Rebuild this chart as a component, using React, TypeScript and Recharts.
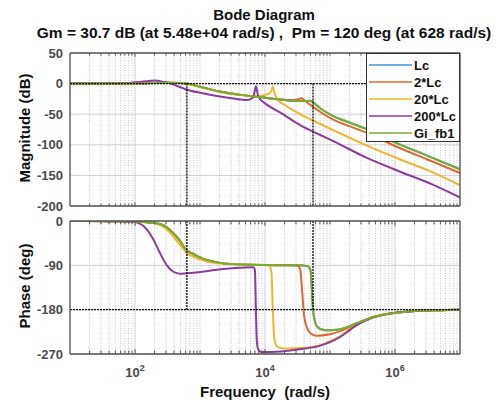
import React from "react";
import { LineChart, Line, XAxis, YAxis, CartesianGrid, ReferenceLine } from "recharts";

// ---- series meta ----
const seriesNames = ["Lc", "2*Lc", "20*Lc", "200*Lc", "Gi_fb1"];
const seriesColors = ["#3f98d4", "#e0672f", "#eeb62e", "#8a3c9c", "#77ac30"];

// ---- axes ----
const xTicks = [100, 10000, 1000000];
const magTicks = [-200, -150, -100, -50, 0, 50];
const phaseTicks = [-270, -180, -90, 0];
const gmFreq = 54800; // Gm frequency (rad/s)
const pmFreq = 628; // Pm frequency (rad/s)

// ---- magnitude (dB) ----
const lcMagW = [10, 100, 200, 316, 447, 628, 1000, 2000, 4000, 8300, 17000, 31600, 40000, 50000, 54800, 63000, 79000, 112000, 204000, 400000, 1000000, 3160000, 10000000];
const lcMagDb = [0, 0.1, 1.0, 1.5, 1.0, 0, -5, -13, -18, -22, -26, -28.5, -28.5, -28, -30.7, -36, -44, -53, -64, -76, -96, -118, -140];

const lc2MagW = [10, 100, 200, 316, 447, 628, 1000, 2000, 4000, 8300, 17000, 25100, 31600, 36300, 40000, 47000, 55000, 70000, 112000, 204000, 400000, 1000000, 3160000, 10000000];
const lc2MagDb = [0, 0.1, 1.0, 1.5, 1.0, 0, -5, -13, -18, -22, -26, -27, -26, -24, -27, -33, -38, -46, -59, -70, -82, -102, -124, -146];

const lc20MagW = [10, 100, 200, 316, 447, 628, 1000, 2042, 3981, 7079, 10000, 12023, 12589, 13183, 13804, 14791, 15849, 16982, 19953, 34674, 70795, 112202, 363078, 1202264, 3801894, 10000000];
const lc20MagDb = [0, 0.2, 1.5, 2.3, 1.3, -0.5, -5.5, -14, -18.5, -20.5, -18.5, -15, -11, -5, -13, -22, -27, -30, -35, -50, -66, -76, -101, -124, -145, -166];

const lc200MagW = [10, 63, 126, 204, 282, 355, 631, 1000, 2042, 3981, 5248, 6310, 6761, 7244, 7762, 8318, 8913, 11220, 16982, 34674, 70795, 112202, 363078, 1202264, 3801894, 10000000];
const lc200MagDb = [0, 0.5, 3, 5, 2.5, 0, -10, -15, -21, -25.5, -27, -24, -18, -4.5, -18, -25, -28, -36, -47, -68, -84, -94, -121, -144, -165, -186];

const giMagW = [10, 100, 200, 316, 447, 628, 1000, 2000, 4000, 8300, 17000, 31600, 40000, 50000, 54800, 63000, 79000, 112000, 204000, 400000, 1000000, 3160000, 10000000];
const giMagDb = [0, 0.1, 1.0, 1.5, 1.0, 0, -5, -13, -18, -22, -26, -28.5, -28.5, -28, -30.7, -36, -44, -53, -64, -76, -96, -118, -140];

// ---- phase (deg) ----
const lcPhW = [10, 100, 158, 240, 309, 389, 490, 628, 794, 1000, 1820, 4169, 10000, 31623, 45709, 50119, 52481, 54800, 58884, 66069, 79433, 89125, 125893, 177828, 229087, 316228, 416869, 831764, 1905461, 4897788, 10000000];
const lcPhDeg = [0, -1, -3, -6, -13, -25, -40, -60, -67, -74, -84, -88.5, -89.5, -90, -92, -100, -135, -180, -205, -217, -221, -222, -221, -216, -210, -203, -197, -188, -183, -181, -180];

const lc2PhW = [10, 100, 158, 240, 309, 389, 490, 628, 794, 1000, 1820, 4169, 10000, 25119, 31623, 34674, 37154, 39811, 43652, 50119, 61660, 100000, 181970, 229087, 316228, 416869, 831764, 1905461, 4897788, 10000000];
const lc2PhDeg = [0, -1, -3, -6, -13, -25, -40, -60, -67, -74, -84, -88.5, -89.5, -90, -91, -97, -140, -190, -215, -228, -233, -230, -218, -212, -204, -197, -188, -183, -181, -180];

const lc20PhW = [10, 100, 170, 214, 257, 309, 372, 437, 525, 628, 794, 1000, 1820, 4169, 10000, 11749, 12589, 13183, 13804, 14791, 16596, 21380, 34674, 70795, 100000, 141254, 181970, 229087, 316228, 416869, 831764, 1905461, 5011872, 10000000];
const lc20PhDeg = [0, -1, -2, -5, -10, -17, -28, -40, -53, -66, -72, -78, -86, -88.5, -89.5, -91, -105, -180, -235, -252, -257, -259, -258, -252, -244, -234, -224, -215, -205, -198, -188, -183, -181, -180];

const lc200PhW = [10, 93, 112, 135, 158, 191, 240, 309, 389, 490, 794, 1820, 4169, 6607, 6998, 7244, 7499, 7943, 8913, 12589, 31623, 70795, 100000, 141254, 181970, 229087, 316228, 416869, 831764, 1905461, 5011872, 10000000];
const lc200PhDeg = [0, -1, -4, -10, -20, -37, -64, -90, -103, -107, -105, -99, -95, -94, -100, -180, -245, -262, -266, -266, -261, -253, -246, -236, -226, -216, -205, -198, -188, -183, -181, -180];

const giPhW = [10, 100, 158, 240, 309, 389, 490, 628, 794, 1000, 1820, 4169, 10000, 31623, 45709, 50119, 52481, 54800, 58884, 66069, 79433, 89125, 125893, 177828, 229087, 316228, 416869, 831764, 1905461, 4897788, 10000000];
const giPhDeg = [0, -1, -3, -6, -13, -25, -40, -60, -67, -74, -84, -88.5, -89.5, -90, -92, -100, -135, -180, -205, -217, -221, -222, -221, -216, -210, -203, -197, -188, -183, -181, -180];

const magSeries = [
  [lcMagW, lcMagDb],
  [lc2MagW, lc2MagDb],
  [lc20MagW, lc20MagDb],
  [lc200MagW, lc200MagDb],
  [giMagW, giMagDb],
];
const phSeries = [
  [lcPhW, lcPhDeg],
  [lc2PhW, lc2PhDeg],
  [lc20PhW, lc20PhDeg],
  [lc200PhW, lc200PhDeg],
  [giPhW, giPhDeg],
];

const toPoints = (w: number[], v: number[]) => w.map((x, i) => ({ w: x, v: v[i] }));

// minor log grid values (2..9 x 10^k plus odd decades)
const minorX: number[] = [];
for (let k = 1; k <= 6; k++) {
  for (let m = 1; m <= 9; m++) {
    const val = m * Math.pow(10, k);
    if (val === 10 || xTicks.includes(val)) continue;
    minorX.push(val);
  }
}

const FONT = "'Liberation Sans', Arial, Helvetica, sans-serif";
const TICK_COLOR = "#4a4a4a";
const BOX = "#555555";

const tickStyle = { fontSize: 13, fontWeight: 700, fill: TICK_COLOR, fontFamily: FONT };

const PowTick = (props: any) => {
  const { x, y, payload } = props;
  const exp = Math.round(Math.log10(payload.value));
  return (
    <text x={x} y={y + 15} textAnchor="middle" fill={TICK_COLOR} fontSize={13} fontWeight={700} fontFamily={FONT}>
      <tspan>10</tspan>
      <tspan dy={-6} fontSize={9}>{exp}</tspan>
    </text>
  );
};

const gridLines = () =>
  minorX.map((v) => (
    <ReferenceLine key={"m" + v} x={v} stroke="#c4c4c4" strokeWidth={1} strokeDasharray="1 1.5" />
  ));

// small inward tick marks on top/bottom edges (MATLAB style)
const edgeTicks = (top: number, bottom: number, minorLen: number, majorLen: number) => {
  const out: any[] = [];
  [...minorX, ...xTicks].forEach((v) => {
    const len = xTicks.includes(v) ? majorLen : minorLen;
    out.push(<ReferenceLine key={"tt" + v} segment={[{ x: v, y: top }, { x: v, y: top - len }]} stroke={BOX} strokeWidth={1} />);
    out.push(<ReferenceLine key={"tb" + v} segment={[{ x: v, y: bottom }, { x: v, y: bottom + len }]} stroke={BOX} strokeWidth={1} />);
  });
  return out;
};

export default function App() {
  return (
    <div style={{ position: "absolute", left: 0, top: 0, width: 496, height: 402, background: "#fff", fontFamily: FONT, overflow: "hidden" }}>
      {/* titles */}
      <div style={{ position: "absolute", left: 32, width: 464, top: 6, textAlign: "center", fontSize: 15, fontWeight: 700, color: "#111", whiteSpace: "nowrap", lineHeight: "18px" }}>
        Bode Diagram
      </div>
      <div style={{ position: "absolute", left: 32, width: 464, top: 24, textAlign: "center", fontSize: 15.5, fontWeight: 700, color: "#111", whiteSpace: "pre", lineHeight: "18px" }}>
        {"Gm = 30.7 dB (at 5.48e+04 rad/s) ,  Pm = 120 deg (at 628 rad/s)"}
      </div>

      {/* magnitude */}
      <div style={{ position: "absolute", left: 0, top: 0 }}>
        <LineChart width={496} height={215} margin={{ top: 53, right: 36, bottom: 9, left: 0 }}>
          <CartesianGrid stroke="#d0d0d0" strokeWidth={1} />
          {gridLines()}
          <XAxis dataKey="w" type="number" scale="log" domain={[10, 10000000]} ticks={xTicks} allowDataOverflow hide />
          <YAxis type="number" domain={[-200, 50]} ticks={magTicks} width={70} tickLine={false} axisLine={false} tickSize={5} tickMargin={2} tick={tickStyle} allowDataOverflow />
          {magSeries.map(([w, v], i) => (
            <Line key={seriesNames[i]} data={toPoints(w, v)} dataKey="v" name={seriesNames[i]} stroke={seriesColors[i]} strokeWidth={2} dot={false} type="monotone" isAnimationActive={false} />
          ))}
          <ReferenceLine y={0} stroke="#111" strokeWidth={1.4} strokeDasharray="2 1" />
          <ReferenceLine segment={[{ x: pmFreq, y: 0 }, { x: pmFreq, y: -200 }]} stroke="#111" strokeWidth={1.4} strokeDasharray="2 1" />
          <ReferenceLine segment={[{ x: gmFreq, y: 0 }, { x: gmFreq, y: -200 }]} stroke="#111" strokeWidth={1.4} strokeDasharray="2 1" />
          {edgeTicks(50, -200, 4, 6)}
          <ReferenceLine x={10} stroke={BOX} strokeWidth={1.3} />
          <ReferenceLine x={10000000} stroke={BOX} strokeWidth={1.3} />
          <ReferenceLine y={50} stroke={BOX} strokeWidth={1.3} />
          <ReferenceLine y={-200} stroke={BOX} strokeWidth={1.3} />
        </LineChart>
      </div>

      {/* phase */}
      <div style={{ position: "absolute", left: 0, top: 212 }}>
        <LineChart width={496} height={190} margin={{ top: 9, right: 36, bottom: 18, left: 0 }}>
          <CartesianGrid stroke="#d0d0d0" strokeWidth={1} />
          {gridLines()}
          <XAxis dataKey="w" type="number" scale="log" domain={[10, 10000000]} ticks={xTicks} allowDataOverflow height={30} tickLine={false} axisLine={false} tickSize={6} tickMargin={2} tick={<PowTick />} />
          <YAxis type="number" domain={[-270, 0]} ticks={phaseTicks} width={70} tickLine={false} axisLine={false} tickSize={5} tickMargin={2} tick={tickStyle} allowDataOverflow />
          {phSeries.map(([w, v], i) => (
            <Line key={seriesNames[i]} data={toPoints(w, v)} dataKey="v" name={seriesNames[i]} stroke={seriesColors[i]} strokeWidth={2} dot={false} type="monotone" isAnimationActive={false} />
          ))}
          <ReferenceLine y={-180} stroke="#111" strokeWidth={1.4} strokeDasharray="2 1" />
          <ReferenceLine segment={[{ x: pmFreq, y: 0 }, { x: pmFreq, y: -180 }]} stroke="#111" strokeWidth={1.4} strokeDasharray="2 1" />
          <ReferenceLine segment={[{ x: gmFreq, y: 0 }, { x: gmFreq, y: -180 }]} stroke="#111" strokeWidth={1.4} strokeDasharray="2 1" />
          {edgeTicks(0, -270, 7, 10)}
          <ReferenceLine x={10} stroke={BOX} strokeWidth={1.3} />
          <ReferenceLine x={10000000} stroke={BOX} strokeWidth={1.3} />
          <ReferenceLine y={0} stroke={BOX} strokeWidth={1.3} />
          <ReferenceLine y={-270} stroke={BOX} strokeWidth={1.3} />
        </LineChart>
      </div>

      {/* axis labels */}
      <div style={{ position: "absolute", left: 24, top: 128, transform: "translate(-50%, -50%) rotate(-90deg)", fontSize: 15, fontWeight: 700, color: "#111", whiteSpace: "nowrap" }}>
        Magnitude (dB)
      </div>
      <div style={{ position: "absolute", left: 24, top: 286, transform: "translate(-50%, -50%) rotate(-90deg)", fontSize: 15, fontWeight: 700, color: "#111", whiteSpace: "nowrap" }}>
        Phase (deg)
      </div>
      <div style={{ position: "absolute", left: 165, width: 200, top: 383, textAlign: "center", fontSize: 15, fontWeight: 700, color: "#111", whiteSpace: "pre", lineHeight: "18px" }}>
        {"Frequency  (rad/s)"}
      </div>

      {/* legend */}
      <div style={{ position: "absolute", left: 366, top: 53, width: 94, height: 89, boxSizing: "border-box", border: "1px solid #333", background: "#fff" }}>
        <svg width={92} height={87} style={{ display: "block" }}>
          {seriesNames.map((n, i) => (
            <g key={n}>
              <line x1={2} x2={45} y1={11 + i * 17} y2={11 + i * 17} stroke={seriesColors[i]} strokeWidth={1.5} />
              <text x={47} y={11 + i * 17} dy="0.36em" fontSize={13} fontWeight={700} fill="#111" fontFamily={FONT}>
                {n}
              </text>
            </g>
          ))}
        </svg>
      </div>
    </div>
  );
}
